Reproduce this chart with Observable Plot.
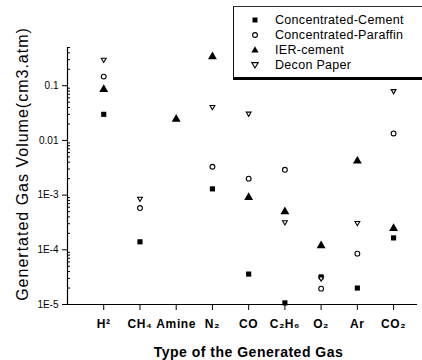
<!DOCTYPE html>
<html><head><meta charset="utf-8">
<script src="https://cdn.jsdelivr.net/npm/d3@7"></script>
<script src="https://cdn.jsdelivr.net/npm/@observablehq/plot@0.6"></script>
<style>
body{margin:0;background:#fff;}
#wrap{position:relative;width:422px;height:360px;font-family:"Liberation Sans",Arial,sans-serif;color:#000;}
#legend{position:absolute;left:233px;top:6px;width:200px;height:70px;border-left:1px solid #111;border-top:1px solid #333;border-bottom:3px solid #000;background:#fff;}
.row{position:absolute;left:14px;height:14px;display:flex;align-items:center;font-size:12.5px;letter-spacing:0.3px;white-space:nowrap;}
.row svg{width:14px;height:14px;margin-right:13px;}
g[aria-label="x-axis tick label"] text{font-weight:bold;letter-spacing:0.6px;}
</style></head>
<body><div id="wrap"></div>
<script>
const gases = ["H²","CH₄","Amine","N₂","CO","C₂H₆","O₂","Ar","CO₂"];
const cement   = [0.030, 1.4e-4, null, 1.3e-3, 3.6e-5, 1.07e-5, 3.2e-5, 2.0e-5, 1.65e-4];
const paraffin = [0.147, 5.8e-4, null, 3.3e-3, 2.0e-3, 2.9e-3, 1.95e-5, 8.5e-5, 0.0134];
const ier      = [0.086, null, 0.0245, 0.34, 9.1e-4, 5.0e-4, 1.19e-4, 4.2e-3, 2.47e-4];
const decon    = [0.30, 8.6e-4, null, 0.041, 0.031, 3.2e-4, 3.0e-5, 3.1e-4, 0.080];
const seriesNames = ["Concentrated-Cement","Concentrated-Paraffin","IER-cement","Decon Paper"];
const yMajor = [0.1, 0.01, 1e-3, 1e-4, 1e-5];
const xTitle = "Type of the Generated Gas";
const yTitle = "Genertated Gas Volume(cm3.atm)";

const triangleDown = {
  draw(context, size) {
    const s = Math.sqrt(size / (Math.sqrt(3) * 0.75));
    const h = s * Math.sqrt(3) / 2;
    context.moveTo(-s / 2, -h / 3);
    context.lineTo(s / 2, -h / 3);
    context.lineTo(0, 2 * h / 3);
    context.closePath();
  }
};

const toRows = (arr, s) => arr.map((v, i) => ({i, v, s})).filter(d => d.v != null);
const rows = {
  cement: toRows(cement, 0), paraffin: toRows(paraffin, 1),
  ier: toRows(ier, 2), decon: toRows(decon, 3)
};
const minor = [];
for (let e = -5; e <= -1; e++) for (let m = 2; m <= 9; m++) { const v = m * 10 ** e; if (v <= 0.5) minor.push(v); }

const chart = Plot.plot({
  width: 422, height: 360,
  marginLeft: 67, marginTop: 47, marginBottom: 56, marginRight: 5,
  style: {fontFamily: "'Liberation Sans', Arial, sans-serif", fontSize: "10px", color: "#000", background: "#fff", overflow: "visible"},
  x: {type: "linear", domain: [-1, 8.66]},
  y: {type: "log", domain: [1e-5, 0.5]},
  marks: [
    Plot.ruleX([-1], {stroke: "#000", strokeWidth: 1.2}),
    Plot.ruleY([1e-5], {stroke: "#000", strokeWidth: 1.2}),
    Plot.axisY({ticks: yMajor, tickSize: 5, tickPadding: 4, fontSize: 10,
      tickFormat: d => d >= 0.01 ? String(d) : "1E" + Math.round(Math.log10(d)), label: null}),
    Plot.axisY({ticks: minor, tickSize: 3, dx: 3, tickFormat: () => "", label: null}),
    Plot.axisX({ticks: d3.range(gases.length), tickFormat: i => gases[i], tickSize: 6, tickPadding: 9, fontSize: 12, label: null}),
    Plot.dot(rows.cement, {x: "i", y: "v", symbol: "square", r: 2.9, fill: "#000", stroke: null}),
    Plot.dot(rows.paraffin, {x: "i", y: "v", symbol: "circle", r: 2.4, fill: "#fff", stroke: "#000", strokeWidth: 1.1}),
    Plot.dot(rows.ier, {x: "i", y: "v", symbol: "triangle", r: 3.3, fill: "#000", stroke: null}),
    Plot.dot(rows.decon, {x: "i", y: "v", symbol: triangleDown, r: 3.1, fill: "#fff", stroke: "#000", strokeWidth: 1.1}),
    Plot.text([xTitle], {frameAnchor: "bottom", dy: 52, dx: 6, fontSize: 14, fontWeight: "bold", textAnchor: "middle", text: d => d}),
    Plot.text([yTitle], {frameAnchor: "left", dx: -45, dy: -12, rotate: -90, fontSize: 16, textAnchor: "middle", text: d => d})
  ]
});
// letter spacing of the two titles (styling only)
d3.select(chart).selectAll('g[aria-label="text"] text').each(function() {
  const t = d3.select(this);
  t.attr("letter-spacing", t.text() === yTitle ? "1px" : "0.5px");
});
const wrap = document.getElementById("wrap");
wrap.appendChild(chart);

// legend
const legend = document.createElement("div");
legend.id = "legend";
const sym = [
  '<rect x="4.5" y="4.5" width="5" height="5" fill="#000"/>',
  '<circle cx="7" cy="7" r="2.4" fill="#fff" stroke="#000" stroke-width="1.1"/>',
  '<path d="M7,3.3 L10.6,9.6 L3.4,9.6 Z" fill="#000"/>',
  '<path d="M3.8,4.6 L10.2,4.6 L7,10 Z" fill="#fff" stroke="#000" stroke-width="1.1"/>'
];
seriesNames.forEach((n, k) => {
  const r = document.createElement("div");
  r.className = "row";
  r.style.top = (6 + k * 15) + "px";
  r.innerHTML = `<svg viewBox="0 0 14 14">${sym[k]}</svg><span>${n}</span>`;
  legend.appendChild(r);
});
wrap.appendChild(legend);
</script>
</body></html>
